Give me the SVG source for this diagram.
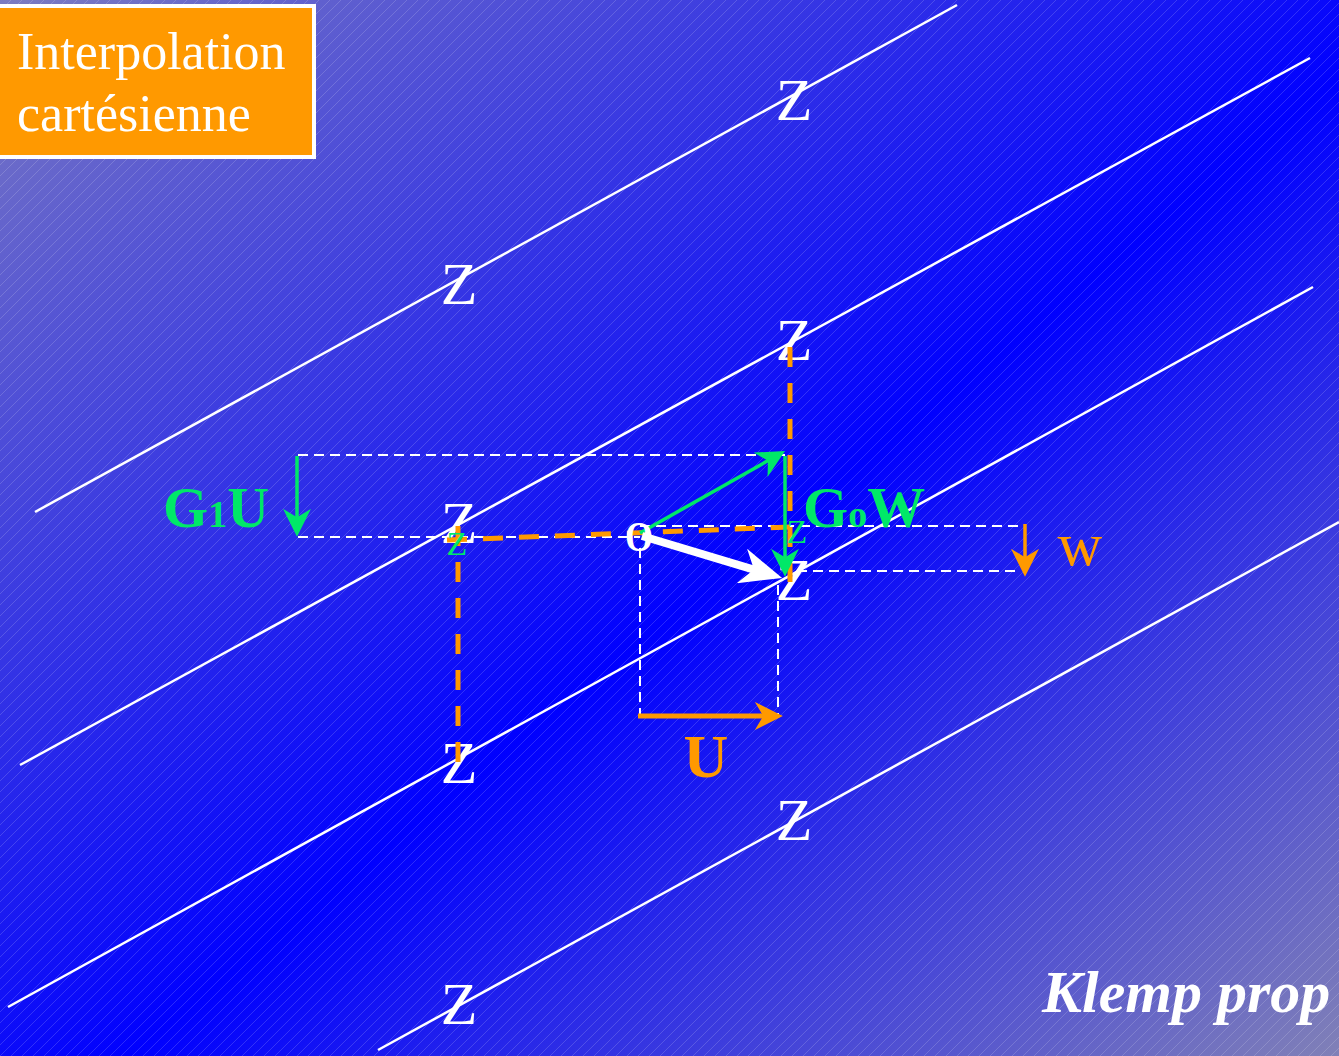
<svg xmlns="http://www.w3.org/2000/svg" width="1339" height="1056" viewBox="0 0 1339 1056">
<defs>
  <linearGradient id="bg" gradientUnits="userSpaceOnUse" x1="0" y1="0" x2="1050" y2="1300">
    <stop offset="0" stop-color="#7c7cc0"/>
    <stop offset="0.54" stop-color="#0000ff"/>
    <stop offset="1" stop-color="#8282b6"/>
  </linearGradient>
  <pattern id="hatch" patternUnits="userSpaceOnUse" width="11" height="11">
    <path d="M0,11 L11,0 M-1,1 L1,-1 M10,12 L12,10" stroke="#ffffff" stroke-opacity="0.2" stroke-width="0.8"/>
  </pattern>
  <marker id="hg" viewBox="0 0 10 10" refX="4" refY="5" markerUnits="userSpaceOnUse" markerWidth="28" markerHeight="28" orient="auto" preserveAspectRatio="none">
    <path d="M0,0 L10,5 L0,10 L3,5 z" fill="#00e868"/>
  </marker>
  <marker id="ho" viewBox="0 0 10 10" refX="4" refY="5" markerUnits="userSpaceOnUse" markerWidth="28" markerHeight="28" orient="auto" preserveAspectRatio="none">
    <path d="M0,0 L10,5 L0,10 L3,5 z" fill="#ff9900"/>
  </marker>
  <marker id="hw" viewBox="0 0 10 10" refX="4" refY="5" markerUnits="userSpaceOnUse" markerWidth="42" markerHeight="36" orient="auto" preserveAspectRatio="none">
    <path d="M0,0 L10,5 L0,10 L3,5 z" fill="#ffffff"/>
  </marker>
  <style>
    .z { font-family: "Liberation Serif", "Times New Roman", serif; font-size: 60px; fill: #ffffff; text-anchor: middle; }
    .zs { font-family: "Liberation Serif", "Times New Roman", serif; font-size: 34px; fill: #00e868; text-anchor: middle; }
    .grid { stroke: #ffffff; stroke-width: 2.5; fill: none; }
    .wd { stroke: #ffffff; stroke-width: 2; stroke-dasharray: 10 6; fill: none; }
    .od { stroke: #ff9900; stroke-width: 5; stroke-dasharray: 20 16; fill: none; }
    .ga { stroke: #00e868; stroke-width: 3.5; fill: none; }
    .bold { font-family: "Liberation Serif", "Times New Roman", serif; font-weight: bold; }
  </style>
</defs>
<rect width="1339" height="1056" fill="url(#bg)"/>
<rect width="1339" height="1056" fill="url(#hatch)"/>

<g id="grid-lines">
  <line class="grid" x1="35" y1="512" x2="957" y2="5"/>
  <line class="grid" x1="20" y1="765" x2="1310" y2="58"/>
  <line class="grid" x1="8" y1="1007" x2="1313" y2="287"/>
  <line class="grid" x1="378" y1="1050" x2="1339" y2="522"/>
</g>

<g id="z-points">
  <text class="z" x="794" y="120">Z</text>
  <text class="z" x="459" y="304">Z</text>
  <text class="z" x="794" y="360">Z</text>
  <text class="z" x="459" y="543">Z</text>
  <text class="z" x="794" y="600">Z</text>
  <text class="z" x="459" y="783">Z</text>
  <text class="z" x="794" y="840">Z</text>
  <text class="z" x="459" y="1024">Z</text>
</g>

<g id="connectors">
  <line class="wd" x1="298" y1="455" x2="785" y2="455"/>
  <line class="wd" x1="298" y1="537" x2="640" y2="537"/>
  <line class="wd" x1="640" y1="526" x2="1020" y2="526"/>
  <line class="wd" x1="797" y1="571" x2="1020" y2="571"/>
  <line class="wd" x1="640" y1="548" x2="640" y2="714"/>
  <line class="wd" x1="778" y1="585" x2="778" y2="714"/>
  <line class="od" x1="790" y1="347" x2="790" y2="582"/>
  <line class="od" x1="447" y1="540" x2="790" y2="527"/>
  <line class="od" x1="458" y1="526" x2="458" y2="762"/>
  <line class="ga" x1="297" y1="456" x2="297" y2="520" marker-end="url(#hg)"/>
  <line class="ga" x1="640" y1="533" x2="770.4" y2="459.3" marker-end="url(#hg)"/>
  <line class="ga" x1="785" y1="456" x2="785" y2="560" marker-end="url(#hg)"/>
  <line x1="642" y1="536" x2="758" y2="570.8" stroke="#ffffff" stroke-width="8" marker-end="url(#hw)"/>
  <line x1="638" y1="716" x2="766" y2="716" stroke="#ff9900" stroke-width="5" marker-end="url(#ho)"/>
  <line x1="1025" y1="524" x2="1025" y2="560" stroke="#ff9900" stroke-width="3.5" marker-end="url(#ho)"/>
</g>

<g id="small-z">
  <text class="zs" x="457" y="555">Z</text>
  <text class="zs" x="797" y="543">Z</text>
</g>

<g id="origin">
  <text x="639" y="551" font-family="Liberation Serif, serif" font-weight="bold" font-size="42" fill="#ffffff" text-anchor="middle" textLength="28" lengthAdjust="spacingAndGlyphs">O</text>
</g>

<g id="label-g1u">
  <text class="bold" x="163" y="527" font-size="58" fill="#00e868">G<tspan font-size="38">1</tspan>U</text>
</g>
<g id="label-gow">
  <text class="bold" x="803" y="527" font-size="58" fill="#00e868">G<tspan font-size="38">o</tspan>W</text>
</g>
<g id="label-u">
  <text class="bold" x="706" y="777" font-size="62" fill="#ff9900" text-anchor="middle">U</text>
</g>
<g id="label-w">
  <text x="1080" y="565" font-family="Liberation Serif, serif" font-size="62" fill="#ff9900" text-anchor="middle">w</text>
</g>

<g id="title">
  <rect x="-2" y="6" width="316" height="151" fill="#ff9900" stroke="#ffffff" stroke-width="4"/>
  <text x="17" y="69" font-family="Liberation Serif, serif" font-size="52" fill="#ffffff">Interpolation</text>
  <text x="17" y="131" font-family="Liberation Serif, serif" font-size="52" fill="#ffffff">cartésienne</text>
</g>

<g id="footer">
  <text x="1042" y="1012" font-family="Liberation Serif, serif" font-size="60" font-weight="bold" font-style="italic" fill="#ffffff">Klemp prop</text>
</g>
</svg>
